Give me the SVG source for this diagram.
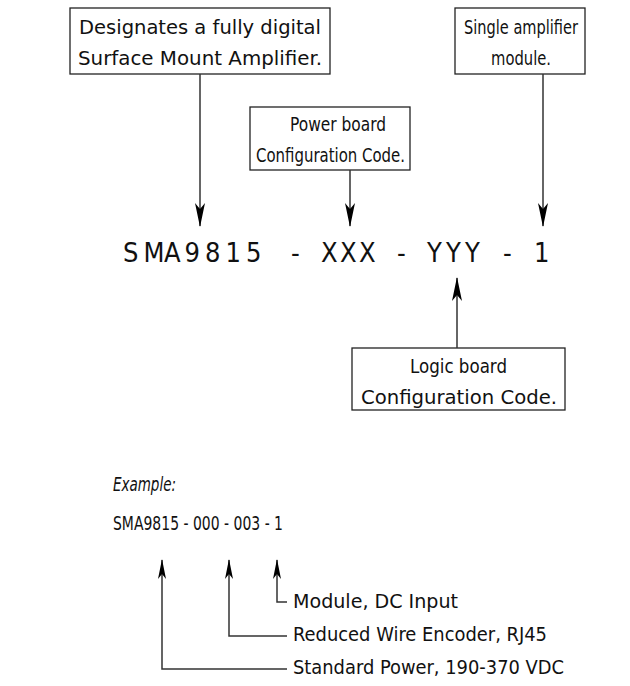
<svg xmlns="http://www.w3.org/2000/svg" width="630" height="686" viewBox="0 0 630 686">
<style>
.box{fill:#fff;stroke:#222;stroke-width:1.3}
.ln{fill:none;stroke:#333;stroke-width:1.5}
text{font-family:"DejaVu Sans Condensed","Liberation Sans",sans-serif;fill:#111}
.t{font-size:20px}
.code{font-size:27px}
.ex{font-size:20px}
</style>
<defs>
<marker id="ah" viewBox="0 0 24 10" refX="23" refY="5" markerWidth="24" markerHeight="10" markerUnits="userSpaceOnUse" orient="auto">
<path d="M0,0 L6,5 L0,10 L24,5 Z" fill="#000"/>
</marker>
<marker id="ah2" viewBox="0 0 20 8" refX="19" refY="4" markerWidth="20" markerHeight="8" markerUnits="userSpaceOnUse" orient="auto">
<path d="M0,0 L5,4 L0,8 L20,4 Z" fill="#000"/>
</marker>
</defs>
<g id="box-designates">
<rect class="box" x="70" y="8" width="260" height="66"/>
<text class="t" x="79" y="34" textLength="242" lengthAdjust="spacingAndGlyphs">Designates a fully digital</text>
<text class="t" x="78" y="65" textLength="244" lengthAdjust="spacingAndGlyphs">Surface Mount Amplifier.</text>
</g>
<g id="box-single">
<rect class="box" x="455" y="8" width="130" height="66"/>
<text class="t" x="464" y="34" textLength="114" lengthAdjust="spacingAndGlyphs">Single amplifier</text>
<text class="t" x="491" y="65" textLength="60" lengthAdjust="spacingAndGlyphs">module.</text>
</g>
<g id="box-power">
<rect class="box" x="250" y="107" width="160" height="63"/>
<text class="t" x="290" y="131" textLength="96" lengthAdjust="spacingAndGlyphs">Power board</text>
<text class="t" x="256" y="162" textLength="149" lengthAdjust="spacingAndGlyphs">Configuration Code.</text>
</g>
<g id="box-logic">
<rect class="box" x="352" y="348" width="213" height="62"/>
<text class="t" x="410" y="373" textLength="97" lengthAdjust="spacingAndGlyphs">Logic board</text>
<text class="t" x="361" y="404" textLength="196" lengthAdjust="spacingAndGlyphs">Configuration Code.</text>
</g>
<g id="code">
<text class="code" y="262" x="123 143.5 164 184.5 205 225.5 246 266 291 301 321 340 359 378 397 408 427 446 465 484 503 514 534">SMA9815 - XXX - YYY - 1</text>
</g>
<g id="example">
<text class="ex" x="113" y="491" font-style="italic" textLength="63" lengthAdjust="spacingAndGlyphs">Example:</text>
<text class="ex" x="113" y="530" textLength="170" lengthAdjust="spacingAndGlyphs">SMA9815 - 000 - 003 - 1</text>
<text class="ex" x="293" y="608" textLength="165" lengthAdjust="spacingAndGlyphs">Module, DC Input</text>
<text class="ex" x="293" y="641" textLength="254" lengthAdjust="spacingAndGlyphs">Reduced Wire Encoder, RJ45</text>
<text class="ex" x="293" y="674" textLength="271" lengthAdjust="spacingAndGlyphs">Standard Power, 190-370 VDC</text>
</g>
<g id="connectors">
<line class="ln" x1="200" y1="74" x2="200" y2="226" marker-end="url(#ah)"/>
<line class="ln" x1="543" y1="74" x2="543" y2="226" marker-end="url(#ah)"/>
<line class="ln" x1="350" y1="170" x2="350" y2="226" marker-end="url(#ah)"/>
<line class="ln" x1="457" y1="348" x2="457" y2="278" marker-end="url(#ah)"/>
<polyline class="ln" points="287,602 277,602 277,560" marker-end="url(#ah2)"/>
<polyline class="ln" points="287,636 229,636 229,560" marker-end="url(#ah2)"/>
<polyline class="ln" points="287,669 162,669 162,560" marker-end="url(#ah2)"/>
</g>
</svg>
